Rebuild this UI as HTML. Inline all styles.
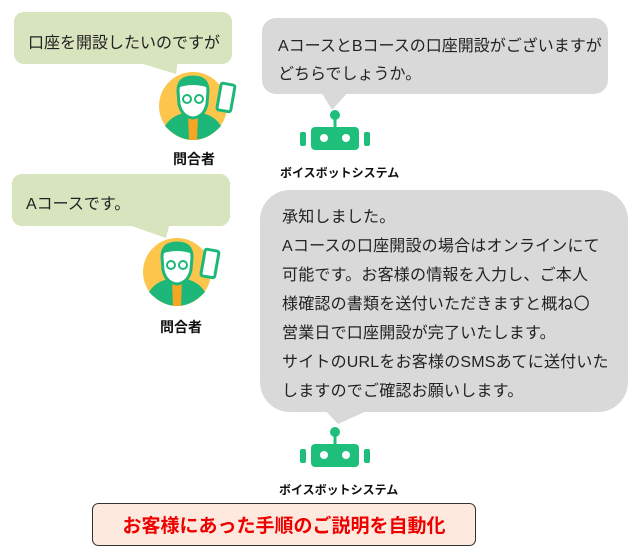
<!DOCTYPE html>
<html><head><meta charset="utf-8"><style>
body{margin:0;width:640px;height:560px;background:#fff;overflow:hidden;font-family:"Liberation Sans","Noto Sans CJK JP",sans-serif;}
svg{position:absolute;left:0;top:0}
.t{position:absolute;color:#222;font-size:16px;white-space:nowrap}
.l{position:absolute;font-size:13px;font-weight:bold;color:#111;white-space:nowrap}
</style></head><body>
<svg width="640" height="560" viewBox="0 0 640 560">
<defs>
<g id="person">
<circle cx="0" cy="0" r="34" fill="#fcc64c"/>
<path d="M-28 20 Q-22 10 -9 7 L9 7 Q22 10 28 20 Q15 34 0 34 Q-15 34 -28 20Z" fill="#1db879"/>
<path d="M-5 8 L5 8 L4 34 L-4 34Z" fill="#f6a623"/>
<path d="M-15 -15 Q-15 -29 0 -29 Q15 -29 15 -15 L14 -2 Q11 11 0 12 Q-11 11 -14 -2Z" fill="#fff" stroke="#1db879" stroke-width="3"/>
<path d="M-15 -15 Q-15 -29 0 -29 Q15 -29 15 -15 L13 -19 Q0 -23 -13 -19Z" fill="#1db879"/>
<circle cx="-6" cy="-7" r="4" fill="none" stroke="#1db879" stroke-width="2"/>
<circle cx="6" cy="-7" r="4" fill="none" stroke="#1db879" stroke-width="2"/>
<rect x="26" y="-22" width="14" height="27" rx="2" fill="#fff" stroke="#1db879" stroke-width="3" transform="rotate(10 33 -9)"/>
</g>
<g id="robot">
<circle cx="0" cy="-22" r="5" fill="#1dbf7a"/>
<rect x="-1.5" y="-20" width="3" height="10" fill="#1dbf7a"/>
<rect x="-24" y="-10" width="48" height="23" rx="4" fill="#1dbf7a"/>
<rect x="-35" y="-5" width="6" height="14" rx="2" fill="#1dbf7a"/>
<rect x="29" y="-5" width="6" height="14" rx="2" fill="#1dbf7a"/>
<circle cx="-11" cy="1" r="4" fill="#fff"/>
<circle cx="11" cy="1" r="4" fill="#fff"/>
</g>
</defs>
<rect x="14" y="12" width="218" height="52" rx="10" fill="#d8e4bd"/>
<path d="M130 60 L178 60 L176 74Z" fill="#d8e4bd"/>
<rect x="262" y="18" width="346" height="76" rx="14" fill="#d9d9d9"/>
<path d="M320 90 L350 90 L332 110Z" fill="#d9d9d9"/>
<rect x="12" y="174" width="218" height="52" rx="10" fill="#d8e4bd"/>
<path d="M120 222 L170 222 L166 238Z" fill="#d8e4bd"/>
<rect x="260" y="190" width="368" height="222" rx="30" fill="#d9d9d9"/>
<path d="M320 405 L380 405 L338 424Z" fill="#d9d9d9"/>
<use href="#person" x="193" y="106"/>
<use href="#person" x="177" y="272"/>
<use href="#robot" x="335" y="137"/>
<use href="#robot" x="335" y="454"/>
<rect x="92.5" y="503.5" width="383" height="42" rx="6" fill="#fde9dd" stroke="#333" stroke-width="1"/>
</svg>
<div class="t" style="left:28px;top:29px">口座を開設したいのですが</div>
<div class="t" style="left:278px;top:33px;line-height:28px">AコースとBコースの口座開設がございますが<br>どちらでしょうか。</div>
<div class="t" style="left:26px;top:190px">Aコースです。</div>
<div class="t" style="left:282px;top:203px;line-height:29px;letter-spacing:0.2px">承知しました。<br>Aコースの口座開設の場合はオンラインにて<br>可能です。お客様の情報を入力し、ご本人<br>様確認の書類を送付いただきますと概ね〇<br>営業日で口座開設が完了いたします。<br>サイトのURLをお客様のSMSあてに送付いた<br>しますのでご確認お願いします。</div>
<div class="l" style="left:173px;top:149px;font-size:14px">問合者</div>
<div class="l" style="left:160px;top:317px;font-size:14px">問合者</div>
<div class="l" style="left:280px;top:164px;font-size:12px">ボイスボットシステム</div>
<div class="l" style="left:279px;top:481px;font-size:12px">ボイスボットシステム</div>
<div style="position:absolute;left:92px;top:511px;width:384px;text-align:center;color:#ee0000;font-weight:bold;font-size:19px">お客様にあった手順のご説明を自動化</div>
</body></html>
